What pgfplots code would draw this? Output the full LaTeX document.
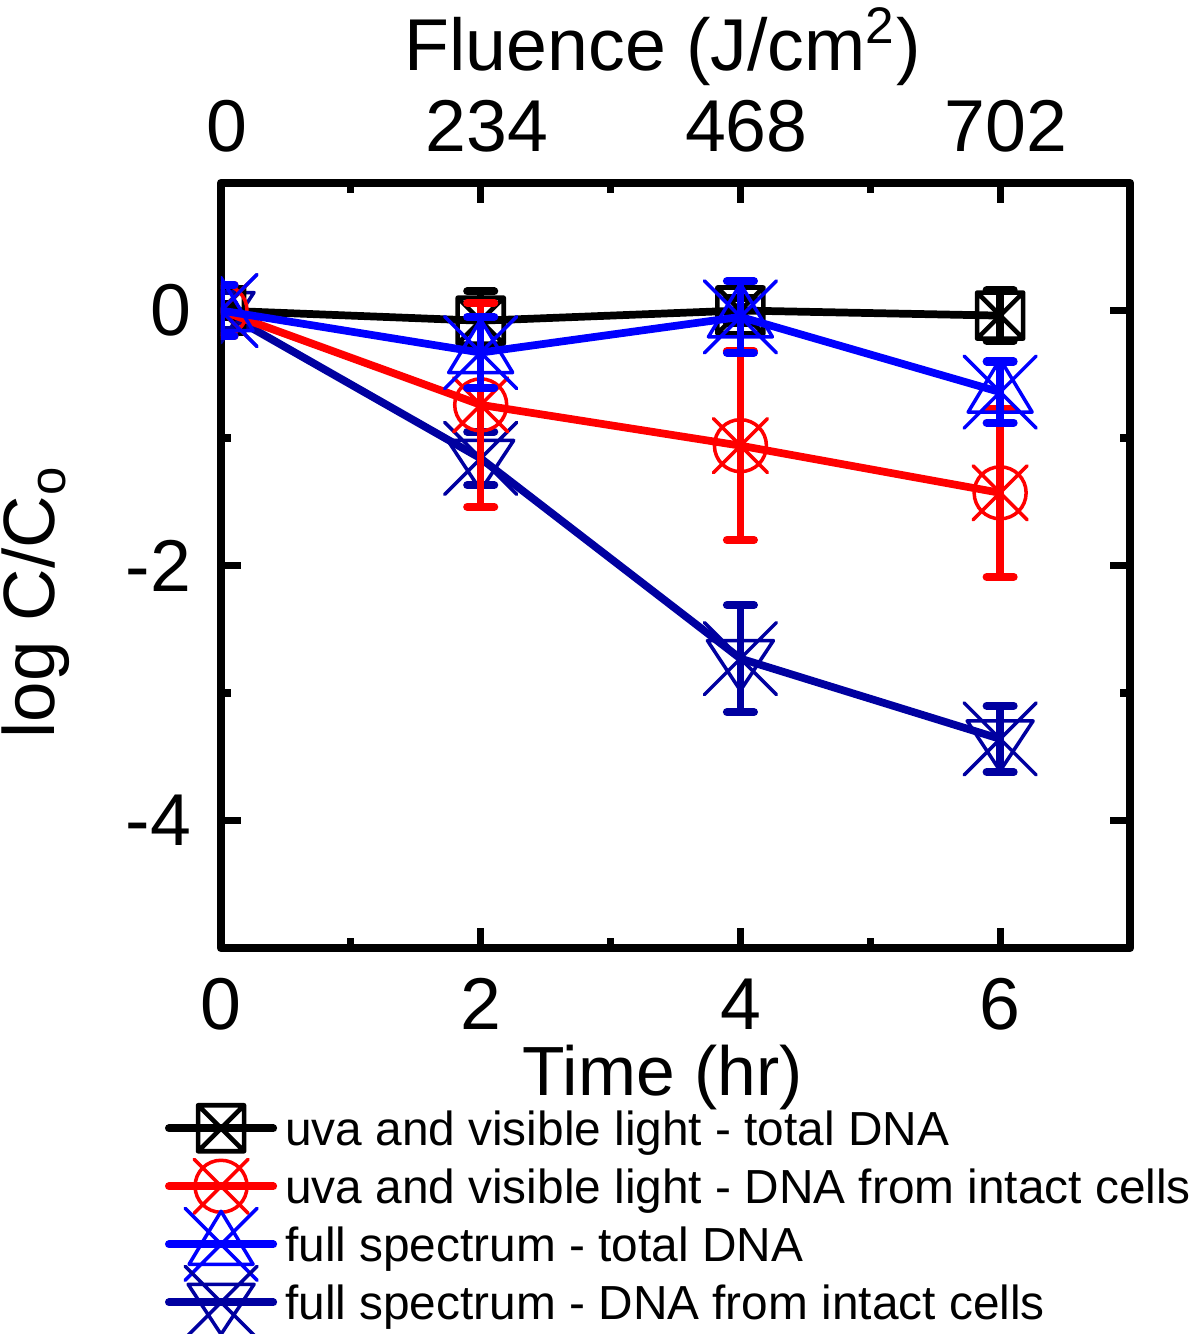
\documentclass[border=0pt]{standalone}
\usepackage{fontspec}
\setmainfont{Liberation Sans}
\usepackage{pgfplots}
\pgfplotsset{compat=1.18}

% composite markers of the original plot
\pgfdeclareplotmark{boxx}{%
  \pgfpathrectangle{\pgfpoint{-2.3mm}{-2.3mm}}{\pgfpoint{4.6mm}{4.6mm}}%
  \pgfpathmoveto{\pgfpoint{-2.3mm}{-2.3mm}}\pgfpathlineto{\pgfpoint{2.3mm}{2.3mm}}%
  \pgfpathmoveto{\pgfpoint{-2.3mm}{2.3mm}}\pgfpathlineto{\pgfpoint{2.3mm}{-2.3mm}}%
  \pgfusepathqstroke}
\pgfdeclareplotmark{circx}{%
  \pgfpathcircle{\pgfpointorigin}{2.6mm}%
  \pgfpathmoveto{\pgfpoint{-2.7mm}{-2.7mm}}\pgfpathlineto{\pgfpoint{2.7mm}{2.7mm}}%
  \pgfpathmoveto{\pgfpoint{-2.7mm}{2.7mm}}\pgfpathlineto{\pgfpoint{2.7mm}{-2.7mm}}%
  \pgfusepathqstroke}
\pgfdeclareplotmark{triux}{%
  \pgfpathmoveto{\pgfpoint{0mm}{3.3mm}}\pgfpathlineto{\pgfpoint{3.2mm}{-2.0mm}}%
  \pgfpathlineto{\pgfpoint{-3.2mm}{-2.0mm}}\pgfpathclose
  \pgfpathmoveto{\pgfpoint{-3.6mm}{-3.6mm}}\pgfpathlineto{\pgfpoint{3.6mm}{3.6mm}}%
  \pgfpathmoveto{\pgfpoint{-3.6mm}{3.6mm}}\pgfpathlineto{\pgfpoint{3.6mm}{-3.6mm}}%
  \pgfusepathqstroke}
\pgfdeclareplotmark{tridx}{%
  \pgfpathmoveto{\pgfpoint{0mm}{-3.2mm}}\pgfpathlineto{\pgfpoint{3.3mm}{1.8mm}}%
  \pgfpathlineto{\pgfpoint{-3.3mm}{1.8mm}}\pgfpathclose
  \pgfpathmoveto{\pgfpoint{-3.6mm}{-3.6mm}}\pgfpathlineto{\pgfpoint{3.6mm}{3.6mm}}%
  \pgfpathmoveto{\pgfpoint{-3.6mm}{3.6mm}}\pgfpathlineto{\pgfpoint{3.6mm}{-3.6mm}}%
  \pgfusepathqstroke}

\definecolor{navyblue}{RGB}{0,0,160}
\tikzset{
  sblack/.style={black, line width=2.2pt, line cap=round, line join=round,
    mark=boxx, mark options={solid, line width=1.3pt}},
  sred/.style={red, line width=2.2pt, line cap=round, line join=round,
    mark=circx, mark options={solid, line width=1pt}},
  sblue/.style={blue, line width=2.2pt, line cap=round, line join=round,
    mark=triux, mark options={solid, line width=1pt}},
  snavy/.style={navyblue, line width=2.2pt, line cap=round, line join=round,
    mark=tridx, mark options={solid, line width=1pt}},
}

\begin{document}
\begin{tikzpicture}
\useasboundingbox (-22.1mm,-38.6mm) rectangle (97.9mm,94.8mm);

\begin{axis}[
  at={(0,0)}, anchor=south west,
  scale only axis, width=90.9mm, height=76.5mm,
  xmin=0, xmax=7, ymin=-5, ymax=1,
  xtick={0,2,4,6}, xticklabels={0,2,4,6}, minor xtick={1,3,5},
  ytick={-4,-2,0}, yticklabels={-4,-2,0}, minor ytick={-3,-1},
  tick align=inside, major tick length=2mm, minor tick length=1mm,
  every tick/.style={black, line width=2pt},
  axis line style={line width=2.4pt, line join=round},
  tick label style={font=\fontsize{20.9}{24}\selectfont, inner sep=0pt},
  xticklabel style={yshift=-3mm},
  yticklabel style={xshift=-2.9mm},
  label style={font=\fontsize{19.8}{24}\selectfont, inner sep=0pt},
  xlabel={Time (hr)},
  xlabel style={at={(axis description cs:0.486,-0.193)}, anchor=base},
  ylabel={log C/C\textsubscript{o}},
  ylabel style={font=\fontsize{20.7}{24}\selectfont,
    at={(axis description cs:-0.183,0.452)}, anchor=base},
  clip marker paths=true,
  error bars/error bar style={line width=2.1pt, line cap=butt},
  error bars/error mark options={rotate=90, mark size=1.35mm, line width=2.3pt, line cap=round},
  legend style={at={(axis description cs:-0.0616,-0.2131)}, anchor=north west,
    draw=none, fill=none, inner sep=0pt, outer sep=0pt,
    row sep=2.35mm, column sep=0pt,
    font=\fontsize{13.6}{16}\selectfont,
    nodes={inner xsep=0.8mm, inner ysep=0pt, text height=3.45mm, text depth=0pt}},
  legend cell align=left,
  legend image code/.code={%
    \draw[#1, mark=none] (0.38mm,0mm) -- (10.82mm,0mm);
    \draw[#1, overlay] plot coordinates {(5.6mm,0mm)};
  },
]
% full spectrum - DNA from intact cells
\addplot[snavy, forget plot, error bars/.cd, y dir=both, y explicit] coordinates {
  (0,0) +- (0,0.15)
  (2,-1.16) +- (0,0.21)
  (4,-2.73) +- (0,0.42)
  (6,-3.36) +- (0,0.26)
};
% uva and visible light - total DNA
\addplot[sblack, forget plot, error bars/.cd, y dir=both, y explicit] coordinates {
  (0,0) +- (0,0.05)
  (2,-0.08) +- (0,0.23)
  (4,0.0) +- (0,0.1)
  (6,-0.04) +- (0,0.2)
};
% uva and visible light - DNA from intact cells
\addplot[sred, forget plot, error bars/.cd, y dir=both, y explicit] coordinates {
  (0,0) +- (0,0.2)
  (2,-0.74) +- (0,0.8)
  (4,-1.06) +- (0,0.74)
  (6,-1.43) +- (0,0.66)
};
% full spectrum - total DNA
\addplot[sblue, forget plot, error bars/.cd, y dir=both, y explicit] coordinates {
  (0,0) +- (0,0.2)
  (2,-0.33) +- (0,0.28)
  (4,-0.05) +- (0,0.28)
  (6,-0.64) +- (0,0.24)
};
\addlegendimage{sblack}
\addlegendentry{uva and visible light - total DNA}
\addlegendimage{sred}
\addlegendentry{uva and visible light - DNA from intact cells}
\addlegendimage{sblue}
\addlegendentry{full spectrum - total DNA}
\addlegendimage{snavy}
\addlegendentry{full spectrum - DNA from intact cells}
\end{axis}

\begin{axis}[
  at={(0,0)}, anchor=south west,
  scale only axis, width=90.9mm, height=76.5mm,
  xmin=0, xmax=7, ymin=-5, ymax=1,
  axis x line*=top, axis y line=none,
  axis line style={draw=none},
  xtick={0,2,4,6}, xticklabels={0,234,468,702},
  major tick length=0pt,
  tick label style={font=\fontsize{20.9}{24}\selectfont, inner sep=0pt},
  xticklabel style={yshift=3mm, xshift=0.6mm},
  xlabel={Fluence (J/cm\textsuperscript{2})},
  xlabel style={font=\fontsize{20.9}{24}\selectfont, inner sep=0pt,
    at={(axis description cs:0.486,1.1477)}, anchor=base},
]
\end{axis}
\end{tikzpicture}
\end{document}
